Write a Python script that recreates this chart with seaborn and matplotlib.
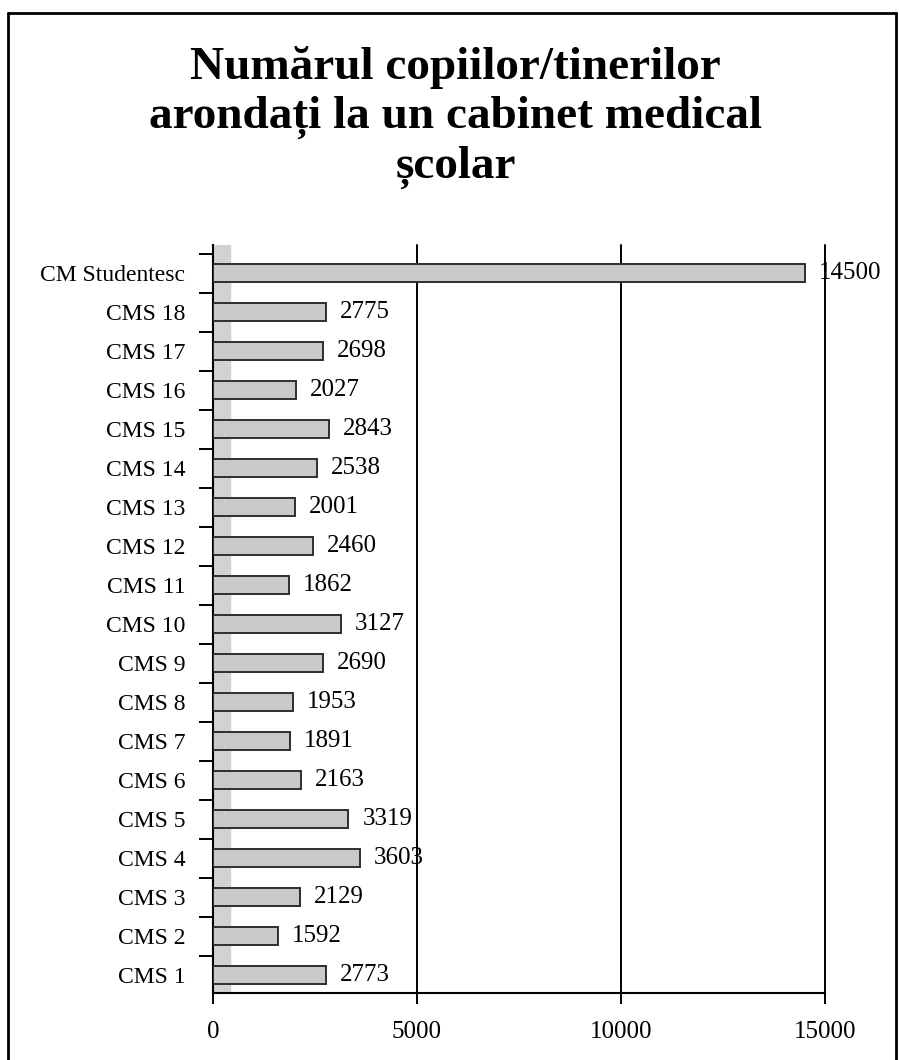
import matplotlib
matplotlib.use("Agg")
import matplotlib.pyplot as plt
import seaborn as sns
import pandas as pd
from matplotlib.ticker import FixedLocator

# --- data (top to bottom as in the chart) ---
centers = ["CM Studentesc", "CMS 18", "CMS 17", "CMS 16", "CMS 15", "CMS 14",
           "CMS 13", "CMS 12", "CMS 11", "CMS 10", "CMS 9", "CMS 8", "CMS 7",
           "CMS 6", "CMS 5", "CMS 4", "CMS 3", "CMS 2", "CMS 1"]
children = [14500, 2775, 2698, 2027, 2843, 2538, 2001, 2460, 1862, 3127,
            2690, 1953, 1891, 2163, 3319, 3603, 2129, 1592, 2773]
x_ticks = [0, 5000, 10000, 15000]

title = "Numărul copiilor/tinerilor\narondați la un cabinet medical\nșcolar"

df = pd.DataFrame({"centru": centers, "copii": children})

sns.set_style("white")
plt.rcParams["font.family"] = ["Liberation Serif", "DejaVu Serif"]
plt.rcParams["text.color"] = "black"
plt.rcParams["xtick.color"] = "black"
plt.rcParams["ytick.color"] = "black"

fig = plt.figure(figsize=(8.99, 10.6), dpi=100)
ax = fig.add_axes([0.2369, 0.0632, 0.6808, 0.7057])

# left "wall" of the 3D chart
ax.axvspan(0, 420, color="#d2d2d2", zorder=0)

sns.barplot(data=df, x="copii", y="centru", order=centers, orient="h",
            color="#c9c9c9", edgecolor="#2e2e2e", linewidth=1.4,
            width=0.48, saturation=1, ax=ax, zorder=3)

for c in ax.containers:
    ax.bar_label(c, padding=10, fontsize=18, color="black")

ax.set_xlim(0, 15000)
ax.set_ylim(18.46, -0.72)
ax.xaxis.set_major_locator(FixedLocator(x_ticks))
ax.set_xticklabels([str(t) for t in x_ticks], fontsize=18)
ax.tick_params(axis="y", labelsize=17, length=0, pad=20, labelcolor="black")
ax.tick_params(axis="x", length=8, width=1.4, direction="out", pad=12, bottom=True,
               labelcolor="black")
ax.yaxis.set_minor_locator(FixedLocator([i - 0.5 for i in range(len(centers) + 1)]))
ax.tick_params(axis="y", which="minor", length=10, width=1.4, direction="out", left=True)

for t in x_ticks[1:]:
    ax.axvline(t, color="black", linewidth=1.4, zorder=1, clip_on=False)

for side in ["top", "right"]:
    ax.spines[side].set_visible(False)
for side in ["left", "bottom"]:
    ax.spines[side].set_color("black")
    ax.spines[side].set_linewidth(1.5)
ax.set_xlabel("")
ax.set_ylabel("")

fig.text(0.507, 0.889, title, ha="center", va="center", fontsize=34,
         fontweight="bold", linespacing=1.2, color="black")

# outer frame of the chart (cut off at the bottom in the scan)
fig.add_artist(plt.Line2D([0.009, 0.009], [0.0, 0.988], color="black", linewidth=2))
fig.add_artist(plt.Line2D([0.009, 0.997], [0.988, 0.988], color="black", linewidth=2))
fig.add_artist(plt.Line2D([0.997, 0.997], [0.0, 0.988], color="black", linewidth=2))

fig.savefig("out.png", dpi=100)
